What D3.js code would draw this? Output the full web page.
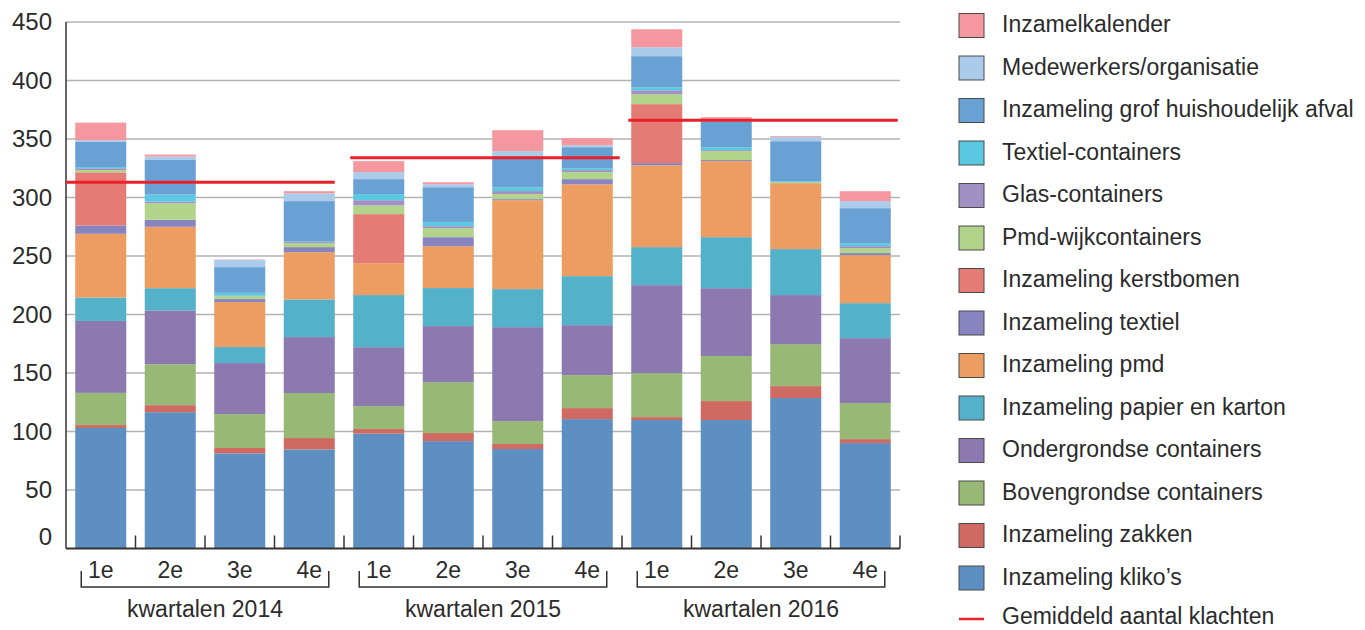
<!DOCTYPE html>
<html>
<head>
<meta charset="utf-8">
<script src="https://cdn.jsdelivr.net/npm/d3@7"></script>
<style>
  body { margin: 0; background: #fff; }
  svg text { font-family: "Liberation Sans", Arial, sans-serif; fill: #2b2b2b; }
</style>
</head>
<body>
<div id="chart"></div>
<script>
// kwartalen
const quarters = ["1e", "2e", "3e", "4e"];
const years = ["2014", "2015", "2016"];
const yTicks = [0, 50, 100, 150, 200, 250, 300, 350, 400, 450];

// series, van onder naar boven
const kliko     = [103, 116.5, 81.3, 84.7, 98.1, 91.8, 85, 110.6, 109.8, 109.8, 128.6, 90.1];
const zakken    = [2.5, 6, 4.6, 9.7, 4, 6.9, 4.3, 9.4, 2.5, 16.2, 10.2, 3.4];
const boven     = [27.5, 35, 29, 38.5, 19.6, 43.5, 19.6, 28.2, 37.6, 38.5, 35.9, 30.8];
const onder     = [61.5, 46, 43.6, 47.8, 50.4, 47.9, 80.3, 42.7, 75.2, 58, 41.9, 55.5];
const papier    = [20, 19, 13.7, 32.2, 44.5, 32.5, 32.5, 41.9, 32.5, 43.6, 39.3, 29.9];
const pmd       = [54.5, 52.5, 38.4, 40.4, 27.3, 35.8, 76, 78.5, 70, 65, 56.4, 41];
const textiel   = [7, 6, 2.6, 4.3, 0, 7.7, 0.9, 4.4, 1.8, 0.9, 0, 1.8];
const kerst     = [45.5, 0, 0, 0, 41.9, 0, 0, 0, 50.4, 0, 0, 0];
const pmdWijk   = [2, 14, 2.5, 3.4, 7.4, 7.7, 4.3, 6, 8.5, 7.6, 0.8, 4.2];
const glas      = [1.5, 1.5, 0.3, 0.9, 4.5, 1.7, 2.6, 1.7, 3.4, 0.9, 0, 1.7];
const textielC  = [1, 6, 2.5, 0.4, 5.2, 3.5, 3.3, 1.7, 2.6, 2.5, 0.9, 2.6];
const grof      = [21.5, 30, 22, 34.6, 12.8, 29.8, 26.5, 17.9, 26.5, 22.2, 34.1, 29.9];
const mede      = [1.5, 2.5, 6.2, 6.6, 6, 2.5, 4.3, 1.7, 7.6, 1.7, 3.5, 6];
const kalender  = [15, 1.7, 0.3, 1.9, 9.4, 1.7, 17.9, 6, 15.4, 1.7, 0.8, 8.5];

// gemiddeld aantal klachten per jaar
const averages = [313, 334, 366];

const series = [
    { name: "Inzameling kliko’s", values: kliko, color: "#5d8fc3" },
    { name: "Inzameling zakken", values: zakken, color: "#cf6a62" },
    { name: "Bovengrondse containers", values: boven, color: "#98b976" },
    { name: "Ondergrondse containers", values: onder, color: "#8b79b0" },
    { name: "Inzameling papier en karton", values: papier, color: "#53b1c9" },
    { name: "Inzameling pmd", values: pmd, color: "#ed9d62" },
    { name: "Inzameling textiel", values: textiel, color: "#8784bf" },
    { name: "Inzameling kerstbomen", values: kerst, color: "#e47b74" },
    { name: "Pmd-wijkcontainers", values: pmdWijk, color: "#b1d48a" },
    { name: "Glas-containers", values: glas, color: "#a190c4" },
    { name: "Textiel-containers", values: textielC, color: "#5bc8e2" },
    { name: "Inzameling grof huishoudelijk afval", values: grof, color: "#6aa1d4" },
    { name: "Medewerkers/organisatie", values: mede, color: "#abcbea" },
    { name: "Inzamelkalender", values: kalender, color: "#f4979f" }
];

const width = 1365, height = 630;
const plotLeft = 66, plotRight = 900, plotTop = 22, plotBottom = 548.5;

const svg = d3.select("#chart").append("svg")
    .attr("width", width)
    .attr("height", height);

// tabel voor d3.stack
const keys = series.map(s => s.name);
const rows = [];
years.forEach((yr, yi) => quarters.forEach((q, qi) => {
    const i = yi * 4 + qi;
    const row = { id: yr + "-" + q, year: yr, q: q };
    series.forEach(s => row[s.name] = s.values[i]);
    rows.push(row);
}));
const stacked = d3.stack().keys(keys)(rows);

const x = d3.scaleBand()
    .domain(rows.map(d => d.id))
    .range([plotLeft, plotRight])
    .paddingInner(0.266)
    .paddingOuter(0.133);

const y = d3.scaleLinear()
    .domain([0, 450])
    .range([plotBottom, plotTop]);

// rasterlijnen
svg.append("g")
    .selectAll("line")
    .data(yTicks.filter(t => t > 0))
    .enter()
    .append("line")
    .attr("x1", plotLeft).attr("x2", plotRight)
    .attr("y1", d => y(d)).attr("y2", d => y(d))
    .attr("stroke", "#b3b3b3")
    .attr("stroke-width", 1.5);

// gestapelde staven
svg.append("g")
    .selectAll("g")
    .data(stacked)
    .enter()
    .append("g")
    .attr("fill", (d, i) => series[i].color)
    .selectAll("rect")
    .data(d => d)
    .enter()
    .append("rect")
    .attr("x", d => x(d.data.id))
    .attr("width", x.bandwidth())
    .attr("y", d => y(d[1]))
    .attr("height", d => Math.max(0, y(d[0]) - y(d[1])));

// y-as
const yAxis = svg.append("g")
    .attr("transform", `translate(${plotLeft},0)`)
    .call(d3.axisLeft(y).tickValues(yTicks).tickSize(0).tickPadding(14));
yAxis.select(".domain").remove();
yAxis.selectAll("text")
    .style("font-size", "24px")
    .attr("fill", "#2b2b2b");
// de 0 staat iets boven de as
yAxis.selectAll(".tick")
    .filter(d => d === 0)
    .select("text")
    .attr("y", -12);

svg.append("line")
    .attr("x1", plotLeft).attr("x2", plotLeft)
    .attr("y1", plotTop).attr("y2", plotBottom)
    .attr("stroke", "#333").attr("stroke-width", 1.5);

svg.append("line")
    .attr("x1", plotLeft).attr("x2", plotRight)
    .attr("y1", plotBottom).attr("y2", plotBottom)
    .attr("stroke", "#333").attr("stroke-width", 2);

// tickjes tussen de staven
const gap = x.step() - x.bandwidth();
const tickXs = rows.slice(1).map(d => x(d.id) - gap / 2).concat([plotRight]);
svg.append("g")
    .selectAll("line")
    .data(tickXs)
    .enter()
    .append("line")
    .attr("x1", d => d).attr("x2", d => d)
    .attr("y1", plotBottom - 13).attr("y2", plotBottom)
    .attr("stroke", "#333").attr("stroke-width", 1.5);

// kwartaal labels
svg.append("g")
    .selectAll("text")
    .data(rows)
    .enter()
    .append("text")
    .attr("x", d => x(d.id) + x.bandwidth() / 2)
    .attr("y", 578)
    .attr("text-anchor", "middle")
    .style("font-size", "23px")
    .text(d => d.q);

// haakjes + jaar labels
years.forEach((yr, yi) => {
    const first = rows[yi * 4], last = rows[yi * 4 + 3];
    const x1 = x(first.id) + 6, x2 = x(last.id) + x.bandwidth() - 6;
    svg.append("path")
        .attr("d", `M${x1},571V587H${x2}V571`)
        .attr("fill", "none")
        .attr("stroke", "#333")
        .attr("stroke-width", 1.5);
    svg.append("text")
        .attr("x", (x(first.id) + x(last.id) + x.bandwidth()) / 2)
        .attr("y", 617)
        .attr("text-anchor", "middle")
        .style("font-size", "23px")
        .text("kwartalen " + yr);
});

// gemiddelde lijnen
svg.append("g")
    .selectAll("line")
    .data(averages)
    .enter()
    .append("line")
    .attr("x1", (d, i) => i === 0 ? plotLeft : x(rows[i * 4].id) - 3)
    .attr("x2", (d, i) => x(rows[i * 4 + 3].id) + x.bandwidth() + (i === 0 ? 0 : 7))
    .attr("y1", d => y(d)).attr("y2", d => y(d))
    .attr("stroke", "#e8202a")
    .attr("stroke-width", 3);

// legenda
const legendItems = series.slice().reverse();
const legend = svg.append("g").attr("transform", "translate(959,0)");
const rowY = i => 25.5 + i * 42.5;

legend.selectAll("rect")
    .data(legendItems)
    .enter()
    .append("rect")
    .attr("x", 0)
    .attr("y", (d, i) => rowY(i) - 12)
    .attr("width", 25)
    .attr("height", 24)
    .attr("fill", d => d.color)
    .attr("stroke", "#4a4a4a")
    .attr("stroke-width", 1);

legend.selectAll("text.item")
    .data(legendItems.map(d => d.name).concat(["Gemiddeld aantal klachten"]))
    .enter()
    .append("text")
    .attr("class", "item")
    .attr("x", 43)
    .attr("y", (d, i) => Math.min(rowY(i) + 6.5, 624))
    .style("font-size", "23px")
    .text(d => d);

legend.append("line")
    .attr("x1", 0).attr("x2", 25)
    .attr("y1", 619).attr("y2", 619)
    .attr("stroke", "#e8202a")
    .attr("stroke-width", 2.5);
</script>
</body>
</html>
